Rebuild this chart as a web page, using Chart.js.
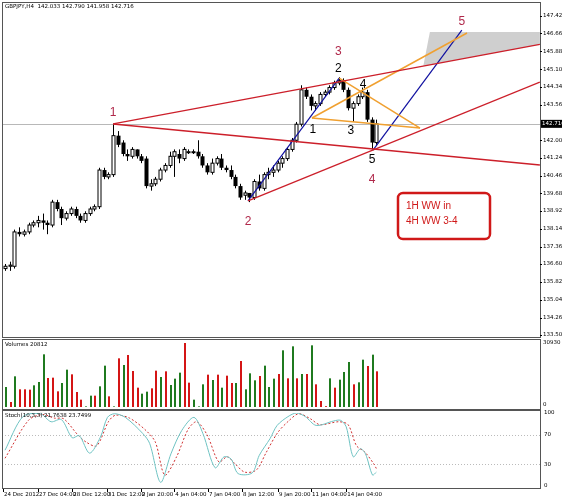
<!DOCTYPE html>
<html>
<head>
<meta charset="utf-8">
<script src="https://cdn.jsdelivr.net/npm/chart.js@4"></script>
<style>
  body { margin: 0; background: #fff; }
  #wrap { position: relative; width: 562px; height: 500px; }
  canvas { position: absolute; left: 0; }
</style>
</head>
<body>
<div id="wrap">
  <canvas id="main" width="562" height="340" style="top:0"></canvas>
  <canvas id="vol" width="562" height="74" style="top:338px"></canvas>
  <canvas id="stoch" width="562" height="90" style="top:410px"></canvas>
</div>
<script>
// GBPJPY H4 candles
const opens  = [136.4,136.5,136.5,138.0,137.9,138.0,138.3,138.4,138.5,138.4,138.3,139.3,139.0,138.6,138.8,139.0,138.7,138.5,138.8,139.0,139.1,140.7,140.4,140.5,142.2,141.9,141.4,141.3,141.6,141.3,141.2,140.0,140.1,140.3,140.7,140.9,141.3,141.4,141.2,141.5,141.5,141.5,141.3,140.9,140.6,141.0,141.2,140.8,140.7,140.4,140.0,139.6,139.7,139.5,140.2,139.9,140.5,140.6,140.7,141.0,141.2,141.6,142.0,142.7,144.2,143.9,143.5,143.6,144.0,144.1,144.3,144.5,144.6,144.2,143.4,143.6,143.9,144.1,142.9,141.9];
const highs  = [136.6,136.7,138.1,138.2,138.1,138.4,138.5,138.7,138.8,138.5,139.4,139.4,139.1,138.9,139.1,139.1,138.8,138.9,139.1,139.2,140.8,140.8,140.6,142.7,142.4,142.0,141.6,141.7,141.6,141.4,141.3,140.3,140.4,140.8,141.0,141.5,141.6,141.6,141.7,141.6,141.6,142.0,141.4,141.0,141.2,141.3,141.4,140.9,140.9,140.5,140.1,139.8,139.7,140.3,140.5,140.6,140.8,140.9,141.1,141.3,141.7,142.1,142.8,144.4,144.3,144.0,143.7,144.1,144.2,144.4,144.6,144.75,144.7,144.3,143.7,144.0,144.3,144.2,143.0,142.9];
const lows   = [136.3,136.3,136.4,137.8,137.8,137.9,138.2,138.2,138.1,137.9,138.2,138.9,138.3,138.5,138.7,138.6,138.4,138.4,138.7,138.9,139.0,140.3,140.3,140.4,141.7,141.3,141.1,141.2,141.2,141.0,139.9,139.8,140.0,140.2,140.6,140.8,140.4,141.0,141.1,141.4,141.4,141.2,140.8,140.5,140.5,140.9,140.7,140.6,140.3,139.9,139.4,139.4,139.3,139.4,139.8,139.8,140.3,140.4,140.6,140.8,141.1,141.5,141.9,142.6,143.8,143.3,143.3,143.5,143.9,144.0,144.2,144.4,144.1,143.3,142.8,143.5,143.8,142.8,141.6,141.8];
const closes = [136.5,136.55,138.0,137.9,138.0,138.3,138.4,138.5,138.4,138.3,139.3,139.0,138.6,138.8,139.0,138.7,138.5,138.8,139.0,139.1,140.7,140.4,140.5,142.2,141.8,141.4,141.3,141.6,141.3,141.1,140.0,140.1,140.3,140.7,140.9,141.3,141.5,141.2,141.6,141.5,141.5,141.3,140.9,140.6,141.0,141.2,140.8,140.7,140.4,140.0,139.5,139.7,139.5,140.2,139.9,140.5,140.6,140.7,141.0,141.2,141.6,142.0,142.7,144.2,143.9,143.5,143.6,144.0,144.1,144.3,144.5,144.6,144.2,143.4,143.6,143.9,144.1,142.9,141.9,142.716];

const volumes = [9666,2417,14821,8538,8538,8377,10472,12083,25454,14016,14177,7572,11599,18043,15788,7250,3544,300,5477,5477,9988,19976,5155,300,23521,20299,25132,17399,9344,6444,7411,9022,17560,14499,17238,10633,13694,16593,30930,11760,3544,300,10955,15627,13049,15627,9344,15143,11599,11599,22232,8538,16271,12888,14982,19976,9666,13694,15949,27387,13855,29320,13855,15949,15949,29803,10955,2900,400,13855,9344,13210,16916,21749,10955,11921,22876,19815,25293,17238];
const volUp = 'GRGRRRGGGRRRGGRRRGGRGGRGRGRRRGGRRGRGGGRRGGGRGRGRRGRGGGRGGGRGRGRGRGRRRGRGGGRGGRGR';

const priceTicks = [147.420,146.660,145.880,145.100,144.340,143.560,142.000,141.240,140.460,139.680,138.920,138.140,137.360,136.600,135.820,135.040,134.260,133.500];
const lastPrice = 142.716;

const stochKx = [0,3.8,7.5,9.8,12,14.3,15.8,18,20.3,21.8,23.3,25.6,29.3,30.8,33.1,35.3,37.6,40.2,42.1,44.7,46.6,48.1,49.6,52.6,54.1,56.4,57.9,60.2,62,63.9,66.2,69.9,71.4,72.6,74.1,75.6,76.7,78.2,79];
const stochK  = [49,95,99,88,91,66,69,45,67,94,99,94,72,58,5,44,76,94,72,25,40,37,17,18,42,65,83,95,100,95,83,89,90,81,40,51,44,15,19];
const stochDx = [0,5,8,10.5,12.5,15.5,17.3,19.5,22,23.5,26.5,30,32,34,36.5,39,40.8,43,45.5,47.3,49,51,53.5,55.5,58,60.5,62.5,65,67,71,73,74.8,76.5,78.5,79];
const stochD  = [38,90,98,93,92,70,60,55,88,97,93,76,60,15,40,78,88,70,33,40,30,19,22,45,73,90,99,92,84,88,84,55,47,30,24];

const dateLabels = ['24 Dec 2012','27 Dec 04:00','28 Dec 12:00','31 Dec 12:00','2 Jan 20:00','4 Jan 04:00','7 Jan 04:00','8 Jan 12:00','9 Jan 20:00','11 Jan 04:00','14 Jan 04:00'];
const dateIdx = [-0.6,7.0,14.3,21.7,28.9,36.0,43.2,50.4,58.1,65.1,72.6];

// wave markup (bar index, price)
const redLines = [
  [[23.0,142.71],[113.8,146.18]],
  [[23.0,142.71],[113.8,140.92]],
  [[51.7,139.35],[113.8,144.54]]
];
const orangeLines = [
  [[65.3,142.97],[88.3,142.53]],
  [[71.1,144.71],[88.3,142.53]],
  [[65.3,142.97],[98.3,146.68]]
];
const blueLines = [
  [[51.7,139.35],[71.1,144.71]],
  [[78.3,141.57],[97.2,146.81]]
];
const targetZone = [[90.4,146.72],[113.8,146.72],[113.8,146.18],[89.0,145.24]];
const redMarks = [['1',23,143.19],['2',51.7,138.43],['3',70.9,145.85],['4',78.1,140.26],['5',97.2,147.16]];
const blackMarks = [['2',70.9,145.11],['1',65.5,142.44],['3',73.6,142.4],['4',76.2,144.41],['5',78.1,141.14]];

const X_MIN = -0.64, X_MAX = 113.83;
const FONT = '5.5px "DejaVu Sans", sans-serif';
const GREEN = '#1f7a1f', RED = '#d41515', MARK = '#b0284a', ORANGE = '#f0a030', BLUE = '#1010a0';

function xScale() { return { type: 'linear', min: X_MIN, max: X_MAX, display: false }; }

function panelBox(ctx, a) {
  ctx.save();
  ctx.strokeStyle = '#555';
  ctx.lineWidth = 1;
  ctx.strokeRect(a.left + 0.5, a.top - 2.5, a.right - a.left, a.bottom - a.top + 4);
  ctx.restore();
}

const lineDs = (pts, color, w) => ({
  type: 'line',
  data: pts.map(p => ({ x: p[0], y: p[1] })),
  borderColor: color, borderWidth: w, pointRadius: 0, fill: false
});

const mainDatasets = [];
redLines.forEach(l => mainDatasets.push(lineDs(l, '#cc1f2a', 1.3)));
orangeLines.forEach(l => mainDatasets.push(lineDs(l, ORANGE, 1.5)));
blueLines.forEach(l => mainDatasets.push(lineDs(l, BLUE, 1.2)));

const mainPlugin = {
  id: 'candles',
  beforeDatasetsDraw(chart) {
    const { ctx, chartArea: a, scales: { x, y } } = chart;
    ctx.save();
    ctx.fillStyle = '#cfcfcf';
    ctx.beginPath();
    targetZone.forEach((p, i) => {
      const px = x.getPixelForValue(p[0]), py = y.getPixelForValue(p[1]);
      i ? ctx.lineTo(px, py) : ctx.moveTo(px, py);
    });
    ctx.closePath(); ctx.fill();
    const ly = Math.round(y.getPixelForValue(lastPrice)) + 0.5;
    ctx.strokeStyle = '#b8b8b8'; ctx.lineWidth = 1;
    ctx.beginPath(); ctx.moveTo(a.left, ly); ctx.lineTo(a.right, ly); ctx.stroke();
    for (let i = 0; i < opens.length; i++) {
      const cx = Math.round(x.getPixelForValue(i)) + 0.5;
      const yo = y.getPixelForValue(opens[i]), yc = y.getPixelForValue(closes[i]);
      ctx.strokeStyle = '#000';
      ctx.beginPath();
      ctx.moveTo(cx, y.getPixelForValue(highs[i]));
      ctx.lineTo(cx, y.getPixelForValue(lows[i]));
      ctx.stroke();
      const top = Math.min(yo, yc), h = Math.max(Math.abs(yc - yo), 1);
      if (closes[i] >= opens[i]) {
        ctx.fillStyle = '#fff';
        ctx.fillRect(cx - 1.5, top, 3, h);
        ctx.strokeRect(cx - 1.5, top, 3, h);
      } else {
        ctx.fillStyle = '#000';
        ctx.fillRect(cx - 2, top, 4, h);
      }
    }
    ctx.restore();
  },
  afterDraw(chart) {
    const { ctx, chartArea: a, scales: { x, y } } = chart;
    ctx.save();
    panelBox(ctx, { left: a.left, right: a.right, top: a.top + 2, bottom: a.bottom - 2 });
    ctx.font = FONT; ctx.fillStyle = '#000'; ctx.textBaseline = 'middle'; ctx.textAlign = 'left';
    priceTicks.forEach(v => {
      const py = y.getPixelForValue(v);
      ctx.fillRect(a.right, Math.round(py), 2, 1);
      ctx.fillText(v.toFixed(3), a.right + 3, py);
    });
    const ly = y.getPixelForValue(lastPrice);
    ctx.fillRect(a.right + 1, ly - 4, 21, 8);
    ctx.fillStyle = '#fff';
    ctx.fillText(lastPrice.toFixed(3), a.right + 2, ly);
    ctx.fillStyle = '#000';
    ctx.fillText('GBPJPY,H4  142.033 142.790 141.958 142.716', a.left + 3, a.top + 4);
    ctx.textAlign = 'center';
    ctx.font = '12px "Liberation Sans", Arial, sans-serif';
    ctx.fillStyle = MARK;
    redMarks.forEach(m => ctx.fillText(m[0], x.getPixelForValue(m[1]), y.getPixelForValue(m[2])));
    ctx.fillStyle = '#000';
    blackMarks.forEach(m => ctx.fillText(m[0], x.getPixelForValue(m[1]), y.getPixelForValue(m[2])));
    ctx.strokeStyle = '#d01818'; ctx.lineWidth = 2.5;
    ctx.beginPath(); ctx.roundRect(398, 193, 92, 46, 5); ctx.stroke();
    ctx.fillStyle = '#d01818'; ctx.textAlign = 'left';
    ctx.font = '10px "Liberation Sans", Arial, sans-serif';
    ctx.fillText('1H WW in', 406, 206);
    ctx.fillText('4H WW 3-4', 406, 221);
    ctx.restore();
  }
};

new Chart(document.getElementById('main'), {
  type: 'line',
  data: { datasets: mainDatasets },
  options: {
    responsive: false, animation: false,
    layout: { padding: { left: 2, right: 22, top: 3, bottom: 2 } },
    plugins: { legend: { display: false }, tooltip: { enabled: false } },
    scales: { x: xScale(), y: { type: 'linear', min: 133.37, max: 147.99, display: false } }
  },
  plugins: [mainPlugin]
});

// volume bars drawn through the chart's scales
new Chart(document.getElementById('vol'), {
  type: 'line',
  data: {
    datasets: [{ data: volumes.map((v, i) => ({ x: i, y: v })), showLine: false, pointRadius: 0 }]
  },
  options: {
    responsive: false, animation: false,
    layout: { padding: { left: 2, right: 22, top: 5, bottom: 5 } },
    plugins: { legend: { display: false }, tooltip: { enabled: false } },
    scales: { x: xScale(), y: { min: 0, max: 30930, display: false } }
  },
  plugins: [{
    id: 'volBars',
    afterDatasetsDraw(chart) {
      const { ctx, chartArea: a, scales: { x, y } } = chart;
      ctx.save();
      volumes.forEach((v, i) => {
        const px = Math.round(x.getPixelForValue(i));
        const top = y.getPixelForValue(v);
        ctx.fillStyle = volUp[i] === 'G' ? GREEN : RED;
        ctx.fillRect(px, top, 2, y.getPixelForValue(0) - top);
      });
      ctx.restore();
      panelBox(ctx, { left: a.left, right: a.right, top: a.top - 1, bottom: a.bottom + 1 });
      ctx.save();
      ctx.font = FONT; ctx.fillStyle = '#000'; ctx.textBaseline = 'middle';
      ctx.fillText('Volumes 20812', a.left + 3, a.top + 2);
      ctx.fillText('30930', a.right + 3, a.top);
      ctx.fillText('0', a.right + 3, a.bottom - 2);
      ctx.restore();
    }
  }]
});

new Chart(document.getElementById('stoch'), {
  type: 'line',
  data: {
    datasets: [
      { data: stochKx.map((v, i) => ({ x: v, y: stochK[i] })), borderColor: '#6fc3c3', borderWidth: 1, pointRadius: 0, tension: 0.3 },
      { data: stochDx.map((v, i) => ({ x: v, y: stochD[i] })), borderColor: '#d03030', borderWidth: 1, borderDash: [2, 2], pointRadius: 0, tension: 0.3 }
    ]
  },
  options: {
    responsive: false, animation: false,
    layout: { padding: { left: 2, right: 22, top: 3, bottom: 14 } },
    plugins: { legend: { display: false }, tooltip: { enabled: false } },
    scales: { x: xScale(), y: { min: 0, max: 100, display: false } }
  },
  plugins: [{
    id: 'stochFrame',
    beforeDatasetsDraw(chart) {
      const { ctx, chartArea: a, scales: { y } } = chart;
      ctx.save();
      ctx.strokeStyle = '#bbb'; ctx.setLineDash([1, 2]);
      [70, 30].forEach(v => {
        const py = Math.round(y.getPixelForValue(v)) + 0.5;
        ctx.beginPath(); ctx.moveTo(a.left, py); ctx.lineTo(a.right, py); ctx.stroke();
      });
      ctx.restore();
    },
    afterDraw(chart) {
      const { ctx, chartArea: a, scales: { x, y } } = chart;
      panelBox(ctx, { left: a.left, right: a.right, top: a.top, bottom: a.bottom + 1 });
      ctx.save();
      ctx.font = FONT; ctx.fillStyle = '#000'; ctx.textBaseline = 'middle';
      ctx.fillText('Stoch(10,3,3) 21.7638 23.7499', a.left + 3, a.top + 3);
      [100, 70, 30, 0].forEach(v => ctx.fillText(String(v), a.right + 4, y.getPixelForValue(v)));
      dateLabels.forEach((d, i) => {
        const px = Math.max(x.getPixelForValue(dateIdx[i]), a.left + 1);
        ctx.fillRect(Math.round(px), a.bottom + 3, 1, 3);
        ctx.fillText(d, px + 1, a.bottom + 9);
      });
      ctx.restore();
    }
  }]
});
</script>
</body>
</html>
